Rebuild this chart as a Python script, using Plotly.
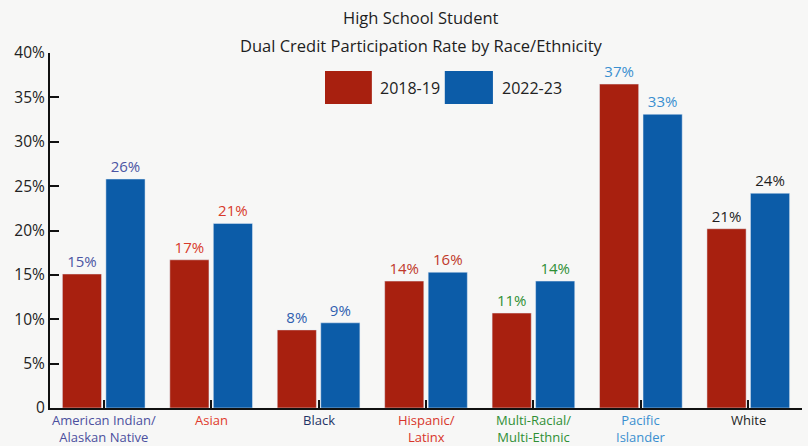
import plotly.graph_objects as go

categories = ["American Indian/<br>Alaskan Native", "Asian", "Black", "Hispanic/<br>Latinx",
              "Multi-Racial/<br>Multi-Ethnic", "Pacific<br>Islander", "White"]
cat_colors = ["#4b4f9e", "#e03a2c", "#1f3566", "#d8352a", "#2f8f35", "#3a8fd0", "#1e1e1e"]
label_colors = ["#4b55a3", "#d8392b", "#2f5fb0", "#c0392b", "#2f8f35", "#3a8fd0", "#1e1e1e"]

series_names = ["2018-19", "2022-23"]
vals_2018 = [15.1, 16.7, 8.8, 14.3, 10.7, 36.5, 20.2]
vals_2022 = [25.8, 20.8, 9.6, 15.3, 14.3, 33.1, 24.2]
text_2018 = ["15%", "17%", "8%", "14%", "11%", "37%", "21%"]
text_2022 = ["26%", "21%", "9%", "16%", "14%", "33%", "24%"]

ytick_vals = [0, 5, 10, 15, 20, 25, 30, 35, 40]
ytick_text = ["0", "5%", "10%", "15%", "20%", "25%", "30%", "35%", "40%"]

title_lines = ["High School Student", "Dual Credit Participation Rate by Race/Ethnicity"]

red = "#a8200f"
blue = "#0c5ca8"
font_family = "Open Sans, Noto Sans, sans-serif"

x_idx = list(range(len(categories)))

fig = go.Figure()
fig.add_trace(go.Bar(
    x=x_idx, y=vals_2018, name=series_names[0], marker_color=red,
    text=text_2018, textposition="outside", cliponaxis=False,
    textfont=dict(color=label_colors, size=15, family=font_family),
))
fig.add_trace(go.Bar(
    x=x_idx, y=vals_2022, name=series_names[1], marker_color=blue,
    text=text_2022, textposition="outside", cliponaxis=False,
    textfont=dict(color=label_colors, size=15, family=font_family),
))

# colored category labels under the axis
for i, (c, col) in enumerate(zip(categories, cat_colors)):
    fig.add_annotation(x=i, y=0, xref="x", yref="y", text=c, showarrow=False,
                       yanchor="top", yshift=-2, borderpad=0,
                       font=dict(color=col, size=13, family=font_family))

# title lines
for j, line in enumerate(title_lines):
    fig.add_annotation(xref="paper", yref="paper", x=0.494, y=[1.099, 1.0225][j],
                       text=line, showarrow=False, xanchor="center", yanchor="middle",
                       font=dict(size=16.5, color="#1e1e1e", family=font_family))

# legend drawn as boxes + labels
legend_items = [(0.3657, 0.428, 0.436, red, series_names[0]),
                (0.525, 0.589, 0.598, blue, series_names[1])]
for x0, x1, xt, col, name in legend_items:
    fig.add_shape(type="rect", xref="paper", yref="paper",
                  x0=x0, x1=x1, y0=0.856, y1=0.949,
                  fillcolor=col, line=dict(width=0))
    fig.add_annotation(xref="paper", yref="paper", x=xt, y=0.901,
                       text=name, showarrow=False, xanchor="left", yanchor="middle",
                       font=dict(size=16, color="#222", family=font_family))

fig.update_layout(
    width=808, height=446,
    margin=dict(l=50, r=6, t=53, b=38),
    paper_bgcolor="#f7f7f6", plot_bgcolor="#f7f7f6",
    showlegend=False,
    barmode="group", bargap=0.19, bargroupgap=0.1,
    font=dict(family=font_family),
)
fig.update_xaxes(
    range=[-0.5, 6.5], tickmode="array", tickvals=x_idx, ticktext=[""] * len(x_idx),
    tickson="boundaries", ticks="inside", ticklen=8, tickwidth=2, tickcolor="#111",
    showline=True, linecolor="#111", linewidth=2, showgrid=False, zeroline=False,
)
fig.update_yaxes(
    range=[0, 40], tickmode="array", tickvals=ytick_vals, ticktext=ytick_text,
    ticks="inside", ticklen=9, tickwidth=2, tickcolor="#111",
    showline=True, linecolor="#111", linewidth=2, showgrid=False, zeroline=False,
    tickfont=dict(size=15.5, color="#222", family=font_family),
)

fig.write_html("out.html", config={"displayModeBar": False},
               post_script="document.body.style.margin='0';document.body.style.overflow='hidden';")
